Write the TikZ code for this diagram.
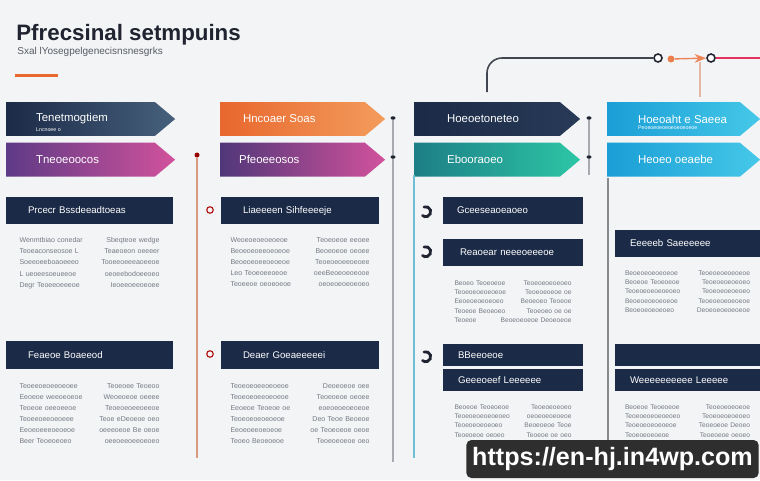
\documentclass[tikz,border=0pt]{standalone}
\usepackage{fontspec}
\setmainfont{Liberation Sans}
\usetikzlibrary{positioning,arrows.meta,shapes.symbols,shapes.geometric}

\definecolor{bgc}{HTML}{F3F4F6}
\definecolor{ink}{HTML}{1F2430}
\definecolor{navy}{HTML}{1B2A47}
\definecolor{navyl}{HTML}{46607C}
\definecolor{plum}{HTML}{5E3A86}
\definecolor{pinkm}{HTML}{D2529C}
\definecolor{orgd}{HTML}{E8672E}
\definecolor{orgl}{HTML}{F39C5C}
\definecolor{tealdk}{HTML}{1D7E86}
\definecolor{teall}{HTML}{2DC6A6}
\definecolor{blued}{HTML}{1A9ED6}
\definecolor{bluel}{HTML}{45C8E8}
\definecolor{txtgray}{HTML}{737A84}
\definecolor{salmon}{HTML}{D99A7E}
\definecolor{lineg}{HTML}{A7ABB0}
\definecolor{tealine}{HTML}{6FC0D6}
\definecolor{wmbg}{HTML}{2E2E2E}

\begin{document}
\begin{tikzpicture}[x=0.02cm, y=-0.02cm]
			\tikzstyle{banner} = [signal, signal to=east, signal pointer angle=80, minimum height=0.68cm, inner sep=0pt]
			\tikzstyle{bantext} = [text=white, inner sep=0pt, font=\fontsize{6.5}{7}\selectfont]
			\tikzstyle{navybox} = [fill=navy, text=white, align=left, inner xsep=0.44cm, inner ysep=0pt, minimum height=0.54cm, font=\fontsize{5.5}{6}\selectfont]
			\tikzstyle{body} = [text=txtgray, align=left, inner sep=0pt, font=\fontsize{4}{6.3}\selectfont]
			\tikzstyle{smallbody} = [text=txtgray, align=left, inner sep=0pt, font=\fontsize{3.8}{5.3}\selectfont]
			\tikzstyle{pin} = [fill=ink, ellipse, minimum width=0.1cm, minimum height=0.07cm, inner sep=0pt]
			\tikzstyle{ring} = [circle, draw=ink, fill=white, line width=0.9pt, minimum size=0.16cm, inner sep=0pt]
			\tikzstyle{bubble} = [circle, draw=red!70!black, line width=0.6pt, minimum size=0.13cm, inner sep=0pt]
			\tikzstyle{swirl} = [line width=1.6pt, line cap=round, draw=ink]
			
			% background and heading
			\useasboundingbox (0,0) rectangle (760,480);
			\fill[bgc] (0,0) rectangle (760,480);
			\node[anchor=west, text=ink, inner sep=0pt, font=\fontsize{12.7}{14}\selectfont\bfseries](title) at (16,35){Pfrecsinal setmpuins};
			\node[anchor=west, text=ink!75, inner sep=0pt, font=\fontsize{5.7}{6}\selectfont](sub) at (17,52){Sxal lYosegpelgenecisnsnesgrks};
			\fill[orgd] (15,74) rectangle (58,77);
			
			% column 1
			\node[banner, minimum width=3.38cm, left color=navy, right color=navyl](b11) at (80.5,119){};
			\node[bantext, right=0.6cm of b11.west](l11){Tenetmogtiem};
			\node[below=0.05cm of l11.south west, anchor=north west, text=white!70, inner sep=0pt, font=\fontsize{3}{3}\selectfont]{Lncnoee o};
			\node[banner, minimum width=3.38cm, below=0.12cm of b11, left color=plum, right color=pinkm](b12){};
			\node[bantext, right=0.6cm of b12.west]{Tneoeoocos};
			\node[navybox, text width=2.46cm](n11) at (89.5,210.5){Prcecr Bssdeeadtoeas};
			\node[body, text width=2.8cm, below=0.26cm of n11](t11){Wenmtbiao conedar \hfill Sbeqteoe wedge\\
				Teoeaconseosoe L \hfill Teaeoeon oeeeer\\
				Soeeoeeboaoeeeo \hfill Tooeeoeeeaoeeoe\\
				L ueoeesoeueeoe \hfill oeoeebodoeeoeo\\
				Degr Teoeeoeeeoe \hfill Ieoeeoeeoeoee};
			\node[navybox, text width=2.46cm, minimum height=0.56cm](n12) at (89.5,355){Feaeoe Boaeeod};
			\node[body, text width=2.8cm, below=0.28cm of n12](t12){Teoeeoeoeeoeoee \hfill Teoeoee Teoeoo\\
				Eeoeoe weeoeoeoe \hfill Weoeoeoe oeeee\\
				Teoeoe oeeoeeoe \hfill Teoeoeoeeoeeoe\\
				Teoeeoeeoeoeee \hfill Teoe eDeoeoe oeo\\
				Eeoeoeeeoeoeoe \hfill oeeeoeoe Be oeoe\\
				Beer Teoeoeoeo \hfill oeeoeeoeeoeoeo};
			
			% column 2
			\node[banner, minimum width=3.30cm, left color=orgd, right color=orgl](b21) at (292.5,119){};
			\node[bantext, right=0.46cm of b21.west]{Hncoaer Soas};
			\node[banner, minimum width=3.30cm, below=0.12cm of b21, left color=plum!80!navy, right color=pinkm](b22){};
			\node[bantext, right=0.38cm of b22.west]{Pfeoeeosos};
			\node[navybox, text width=2.28cm](n21) at (300,210.5){Liaeeeen Sihfeeeeje};
			\node[body, text width=2.78cm, below=0.26cm of n21](t21){Weoeoeoeoeoeoe \hfill Teoeoeoe eeoee\\
				Beoeoeoeeoeoeoe \hfill Beoeoeoe oeoee\\
				Beoeoeoeeoeoeoe \hfill Teoeoeoeeoeoee\\
				Leo Teoeoeeoeoe \hfill oeeBeoeoeoeooe\\
				Teoeeoe oeoeoeoe \hfill oeoeoeoeoeoeo};
			\node[navybox, text width=2.28cm, minimum height=0.56cm](n22) at (300,355){Deaer Goeaeeeeei};
			\node[body, text width=2.78cm, below=0.28cm of n22](t22){Teoeoeoeeoeoeoe \hfill Deoeoeoe oee\\
				Teoeoeoeeoeoeoe \hfill Teoeoeoe oeoee\\
				Eeoeoe Teoeoe oe \hfill eoeoeoeoeoeoe\\
				Teoeoeoeoeoeoe \hfill Deo Teoe Beoeoe\\
				Eeoeoeeoeoeoe \hfill oe Teoeoeoe oeoe\\
				Teoeo Beoeoeoe \hfill Teoeoeoeoe oeo};
			\node[bubble](i21) at (210,210){};
			\node[bubble](i22) at (210,354){};
			
			% column 3
			\node[banner, minimum width=3.32cm, left color=navy, right color=navy!70!navyl](b31) at (487,119){};
			\node[bantext, right=0.66cm of b31.west]{Hoeoetoneteo};
			\node[banner, minimum width=3.32cm, below=0.12cm of b31, left color=tealdk, right color=teall](b32){};
			\node[bantext, right=0.66cm of b32.west, text=white!75]{Ebooraoeo};
			\node[navybox, inner xsep=0.28cm, text width=2.24cm](n31) at (513,210.5){Gceeseaoeaoeo};
			\node[navybox, inner xsep=0.34cm, text width=2.12cm](n32) at (513,252.5){Reaoear neeeoeeeoe};
			\node[smallbody, text width=2.34cm, below=0.28cm of n32](t31){Beoeo Teoeoeoe \hfill Teoeoeoeoeoeo\\
				Teoeoeoeoeoeoe \hfill Teoeoeoeoe oe\\
				Eeoeoeoeoeoeo \hfill Beoeoeo Teoeoe\\
				Teoeoe Beoeoeo \hfill Teoeoeo oe oe\\
				Teoeoe \hfill Beoeoeoeoe Deoeoeoe};
			\node[navybox, inner xsep=0.3cm, text width=2.2cm, minimum height=0.44cm](n33) at (513,355){BBeeoeoe};
			\node[navybox, inner xsep=0.3cm, text width=2.2cm, minimum height=0.44cm](n34) at (513,380){Geeeoeef Leeeeee};
			\node[smallbody, text width=2.34cm, below=0.26cm of n34](t32){Beoeoe Teoeoeoe \hfill Teoeoeoeoeo\\
				Teoeoeoeoeoeoeo \hfill oeoeoeoeoeoe\\
				Teoeoeoeoeoeo \hfill Beoeoeoe Teoe\\
				Teoeoeoe oeoeo \hfill Teoeoe oe oeo};
			
			% column 4
			\node[banner, minimum width=3.06cm, left color=blued, right color=bluel](b41) at (673.5,119){};
			\node[bantext, right=0.62cm of b41.west](l41){Hoeoaht e Saeea};
			\node[below=0.04cm of l41.south west, anchor=north west, text=white!70, inner sep=0pt, font=\fontsize{3}{3}\selectfont]{Peoeoeoeoeoeoeoeoeoe};
			\node[banner, minimum width=3.06cm, below=0.12cm of b41, left color=blued, right color=bluel](b42){};
			\node[bantext, right=0.62cm of b42.west]{Heoeo oeaebe};
			\node[navybox, inner xsep=0.3cm, text width=2.3cm](n41) at (687.5,243.5){Eeeeeb Saeeeeee};
			\node[smallbody, text width=2.5cm, below=0.26cm of n41](t41){Beoeoeoeoeoeoe \hfill Teoeoeoeoeoeoe\\
				Beoeoe Teoeoeoe \hfill Teoeoeoeoeoeo\\
				Teoeoeoeoeoeoeo \hfill Teoeoeoeoeoeo\\
				Beoeoeoeoeoeoe \hfill Teoeoeoeoeoeoe\\
				Beoeoeoeoeoeo \hfill Deoeoeoeoeoeoe};
			\node[navybox, inner xsep=0.3cm, text width=2.3cm, minimum height=0.44cm](n43) at (687.5,355){};
			\node[navybox, inner xsep=0.3cm, text width=2.3cm, minimum height=0.44cm](n44) at (687.5,380){Weeeeeeeeee Leeeee};
			\node[smallbody, text width=2.5cm, below=0.26cm of n44](t42){Beoeoe Teoeoeoe \hfill Teoeoeoeoeoe\\
				Teoeoeoeoeoeoeo \hfill Teoeoeoeoeoeo\\
				Teoeoeoeoeoeoe \hfill Teoeoeoe Deoeo\\
				Teoeoeoeoeoe \hfill Teoeoeoe oeoeo};
			
			% connectors
			\node[circle, fill=red!60!black, minimum size=0.1cm, inner sep=0pt](d12) at (197,155){};
			\coordinate(d12e) at (197,458);
			\draw[salmon, line width=1.1pt](d12) -- (d12e);
			\node[pin](p1) at (393,118){};
			\node[pin](p2) at (393,157){};
			\coordinate(p3) at (393,462);
			\draw[lineg, line width=0.6pt](p1) -- (p2) -- (p3);
			\node[pin](q1) at (589,118){};
			\node[pin](q2) at (589,157){};
			\coordinate(q3) at (589,175);
			\draw[lineg, line width=0.6pt](q1) -- (q2) -- (q3);
			\coordinate(v1) at (414,175);
			\coordinate(v2) at (414,458);
			\draw[tealine, line width=1.2pt](v1) -- (v2);
			\coordinate(w1) at (608,178);
			\coordinate(w2) at (608,458);
			\draw[lineg!80!black, line width=0.6pt](w1) -- (w2);
			\foreach \y in {212,252,357}
				\draw[swirl] (424,\y-5) arc (110:-130:0.1cm);
			
			% top path
			\coordinate(c3) at (487,92);
			\node[ring](r1) at (658,58){};
			\draw[ink!85, line width=0.9pt, rounded corners=0.3cm](c3) |- (r1);
			\node[circle, fill=orgd!85, minimum size=0.14cm, inner sep=0pt](blob) at (671,59){};
			\node[ring](r2) at (711,58){};
			\draw[orgd!80, line width=0.8pt, -Stealth](blob) -- (r2);
			\coordinate(c4) at (700,97);
			\coordinate(j4) at (700,62);
			\draw[salmon!70, line width=0.7pt](c4) -- (j4);
			\coordinate(pe) at (760,58);
			\draw[pinkm!60!red, line width=0.9pt](r2) -- (pe);
			
			% watermark
			\node[fill=wmbg, rounded corners=0.1cm, minimum width=5.82cm, minimum height=0.76cm, text=white, font=\fontsize{14.3}{15}\selectfont\bfseries](url) at (612.5,459){https://en-hj.in4wp.com};
		\end{tikzpicture}
\end{document}
